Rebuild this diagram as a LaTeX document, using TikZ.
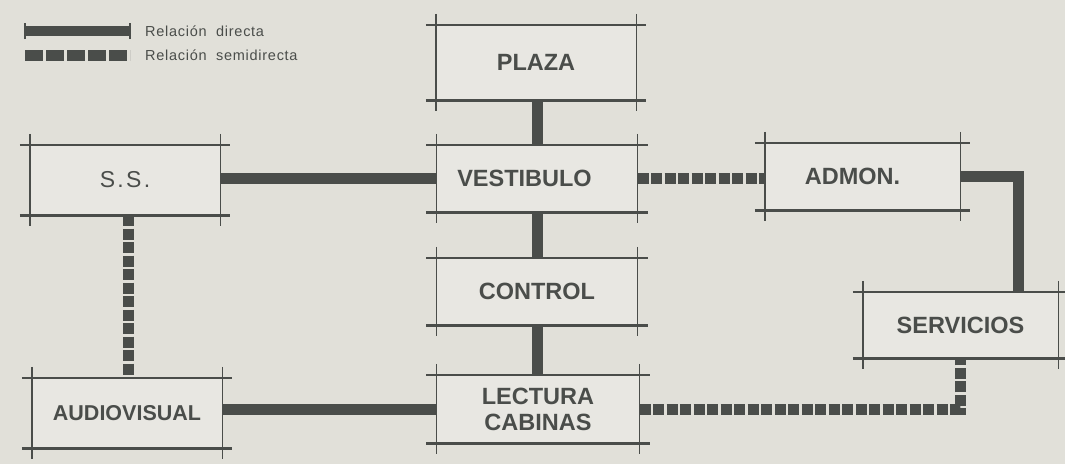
\documentclass[tikz,border=0pt]{standalone}
\usepackage{fontspec}
\setmainfont{Liberation Sans}
\newfontfamily\legfont[LetterSpace=5]{Liberation Sans}
\newfontfamily\ssfont[LetterSpace=10]{Liberation Sans}
\definecolor{paper}{HTML}{E1E0D9}
\definecolor{boxfill}{HTML}{E8E7E2}
\definecolor{ink}{HTML}{4A4D4A}
\tikzset{
  room/.style={fill=boxfill, draw=none, inner sep=0pt, font=\bfseries\fontsize{23.5}{25}\selectfont, text=ink, align=center},
  direct/.style={draw=ink, line width=11pt},
  semi/.style={draw=ink, line width=11pt, dash pattern=on 11pt off 2.5pt},
  semileg/.style={draw=ink, line width=11pt, dash pattern=on 18pt off 3pt},
  legtext/.style={font=\legfont\fontsize{14.5}{16}\selectfont, text=ink, anchor=west, inner sep=0pt},
}
\newcommand{\roomlines}[1]{%
  \draw[ink, line width=2.6pt] ([xshift=-10pt]#1.north west) -- ([xshift=10pt]#1.north east);
  \draw[ink, line width=2.6pt] ([xshift=-10pt]#1.south west) -- ([xshift=10pt]#1.south east);
  \draw[ink, line width=1.4pt] ([yshift=11pt]#1.north west) -- ([yshift=-11pt]#1.south west);
  \draw[ink, line width=1.4pt] ([yshift=11pt]#1.north east) -- ([yshift=-11pt]#1.south east);
}
\begin{document}
\begin{tikzpicture}[x=1pt,y=-1pt]
\useasboundingbox[fill=paper] (0,0) rectangle (1065,464);
% rooms
\node[room, minimum width=200pt, minimum height=75pt] (plaza) at (536,62.5) {PLAZA};
\node[room, minimum width=201pt, minimum height=67pt] (vest) at (537,178.5) {\hspace*{-25pt}VESTIBULO};
\node[room, minimum width=201pt, minimum height=67pt] (control) at (537,291.5) {CONTROL};
\node[room, minimum width=203pt, minimum height=68pt] (lect) at (538,409) {LECTURA\\[1pt]CABINAS};
\node[room, minimum width=190pt, minimum height=70pt, font=\ssfont\fontsize{23}{25}\selectfont] (ss) at (125,180) {S.S.};
\node[room, minimum width=190pt, minimum height=70pt, font=\bfseries\fontsize{21.5}{24}\selectfont] (audio) at (127,413) {AUDIOVISUAL};
\node[room, minimum width=195pt, minimum height=67pt] (admon) at (862.5,176.5) {\hspace*{-20pt}ADMON.};
\node[room, minimum width=195pt, minimum height=66pt] (serv) at (960.5,325) {SERVICIOS};
% connectors
\coordinate (ssconn) at (128,0);
\coordinate (turnA) at (1018,0);
\draw[direct] (plaza.south -| vest.north) -- (vest.north);
\draw[direct] (vest.south) -- (control.north);
\draw[direct] (control.south) -- (lect.north -| control.south);
\draw[direct] (ss.east |- vest.west) -- (vest.west);
\draw[direct] (audio.east |- lect.west) -- (lect.west);
\draw[semi] (vest.east) -- (admon.west |- vest.east);
\draw[direct] (admon.east) -| (serv.north -| turnA);
\draw[semi] (ss.south -| ssconn) -- (audio.north -| ssconn);
\draw[semi] (lect.east) -| (serv.south);
% box outlines
\foreach \r in {plaza,vest,control,lect,ss,audio,admon,serv}{\roomlines{\r}}
% legend
\coordinate (l1a) at (25,31);
\coordinate (l1b) at (130,31);
\coordinate (l2a) at (25,55);
\coordinate (l2b) at (130,55);
\draw[direct, line width=10pt] (l1a) -- (l1b);
\draw[ink, line width=1.2pt] ([yshift=-8pt]l1a) -- ([yshift=8pt]l1a);
\draw[ink, line width=1.2pt] ([yshift=-8pt]l1b) -- ([yshift=8pt]l1b);
\draw[semileg] (l2a) -- (l2b);
\node[legtext] (t1) at (145,31) {Relación\ \ directa};
\node[legtext] (t2) at (145,55) {Relación\ \ semidirecta};
\end{tikzpicture}
\end{document}
